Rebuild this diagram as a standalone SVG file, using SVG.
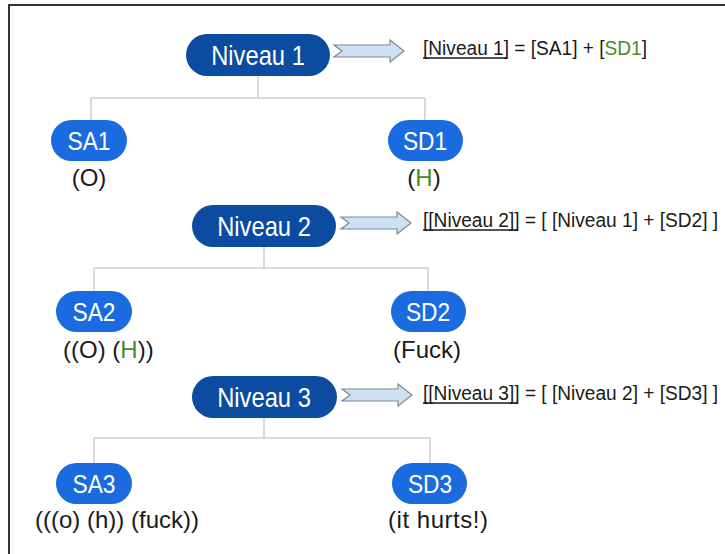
<svg xmlns="http://www.w3.org/2000/svg" width="725" height="554" viewBox="0 0 725 554">
<style>
.bg{fill:#ffffff}
.frame{fill:none;stroke:#333;stroke-width:2}
.lvl{fill:#0b4ba0}
.sub{fill:#1a6be0}
.nt{font-family:"Liberation Sans",Arial,sans-serif;fill:#fff;text-anchor:middle}
.big{font-size:27px}
.sm{font-size:25px}
.lbl{font-family:"Liberation Sans",Arial,sans-serif;font-size:24px;fill:#1a1a1a}
.eq{font-family:"Liberation Sans",Arial,sans-serif;font-size:21px;fill:#1a1a1a}
.g{fill:#4a8a2c}
.tree{fill:none;stroke:#c9cdd3;stroke-width:1.5}
.arr{fill:#cfe0f2;stroke:#7d8996;stroke-width:1.2}
.ul{stroke:#1a1a1a;stroke-width:1.3}
</style>
<defs>
<path id="blk" d="M0,-6 L56,-6 L56,-11 L70,0 L56,11 L56,6 L0,6 L8,0 Z"/>
</defs>
<rect class="bg" x="0" y="0" width="725" height="554"/>
<path class="frame" d="M9,560 V5 H730"/>

<g id="connectors">
<path class="tree" d="M258,76 V98 M91,98 H425 M91,98 V120 M425,98 V120"/>
<path class="tree" d="M264,247 V268 M94,268 H428 M94,268 V291 M428,268 V291"/>
<path class="tree" d="M264,418 V438 M94,438 H430 M94,438 V463 M430,438 V463"/>
<use href="#blk" class="arr" transform="translate(334,51)"/>
<use href="#blk" class="arr" transform="translate(341,223)"/>
<use href="#blk" class="arr" transform="translate(342,395)"/>
</g>

<g id="niveau1">
<rect class="lvl" x="186" y="34" width="144" height="42" rx="21"/>
<text class="nt big" transform="translate(258,65) scale(0.88,1)">Niveau 1</text>
</g>
<g id="eq1">
<text class="eq" transform="translate(423,55) scale(0.91,1)">[Niveau 1] = [SA1] + [<tspan class="g">SD1</tspan>]</text>
<line class="ul" x1="423" y1="58" x2="507" y2="58"/>
</g>
<g id="sa1">
<rect class="sub" x="51" y="120" width="76" height="41" rx="20.5"/>
<text class="nt sm" transform="translate(89,150) scale(0.91,1)">SA1</text>
<text class="lbl" x="89" y="186" text-anchor="middle">(O)</text>
</g>
<g id="sd1">
<rect class="sub" x="388" y="120" width="75" height="41" rx="20.5"/>
<text class="nt sm" transform="translate(425,150) scale(0.91,1)">SD1</text>
<text class="lbl" x="424" y="186" text-anchor="middle">(<tspan class="g">H</tspan>)</text>
</g>

<g id="niveau2">
<rect class="lvl" x="192" y="205" width="144" height="42" rx="21"/>
<text class="nt big" transform="translate(264,236) scale(0.88,1)">Niveau 2</text>
</g>
<g id="eq2">
<text class="eq" transform="translate(423,227) scale(0.91,1)">[[Niveau 2]] = [ [Niveau 1] + [SD2] ]</text>
<line class="ul" x1="423" y1="230" x2="518" y2="230"/>
</g>
<g id="sa2">
<rect class="sub" x="56" y="291" width="76" height="41" rx="20.5"/>
<text class="nt sm" transform="translate(94,321) scale(0.91,1)">SA2</text>
<text class="lbl" x="63" y="358">((O) (<tspan class="g">H</tspan>))</text>
</g>
<g id="sd2">
<rect class="sub" x="391" y="291" width="75" height="41" rx="20.5"/>
<text class="nt sm" transform="translate(428,321) scale(0.91,1)">SD2</text>
<text class="lbl" x="393" y="358">(Fuck)</text>
</g>

<g id="niveau3">
<rect class="lvl" x="192" y="376" width="145" height="42" rx="21"/>
<text class="nt big" transform="translate(264,407) scale(0.88,1)">Niveau 3</text>
</g>
<g id="eq3">
<text class="eq" transform="translate(423,400) scale(0.91,1)">[[Niveau 3]] = [ [Niveau 2] + [SD3] ]</text>
<line class="ul" x1="423" y1="403" x2="518" y2="403"/>
</g>
<g id="sa3">
<rect class="sub" x="56" y="463" width="76" height="41" rx="20.5"/>
<text class="nt sm" transform="translate(94,493) scale(0.91,1)">SA3</text>
<text class="lbl" x="35" y="528">(((o) (h)) (fuck))</text>
</g>
<g id="sd3">
<rect class="sub" x="392" y="463" width="75" height="41" rx="20.5"/>
<text class="nt sm" transform="translate(430,493) scale(0.91,1)">SD3</text>
<text class="lbl" x="388" y="528" textLength="100">(it hurts!)</text>
</g>
</svg>
